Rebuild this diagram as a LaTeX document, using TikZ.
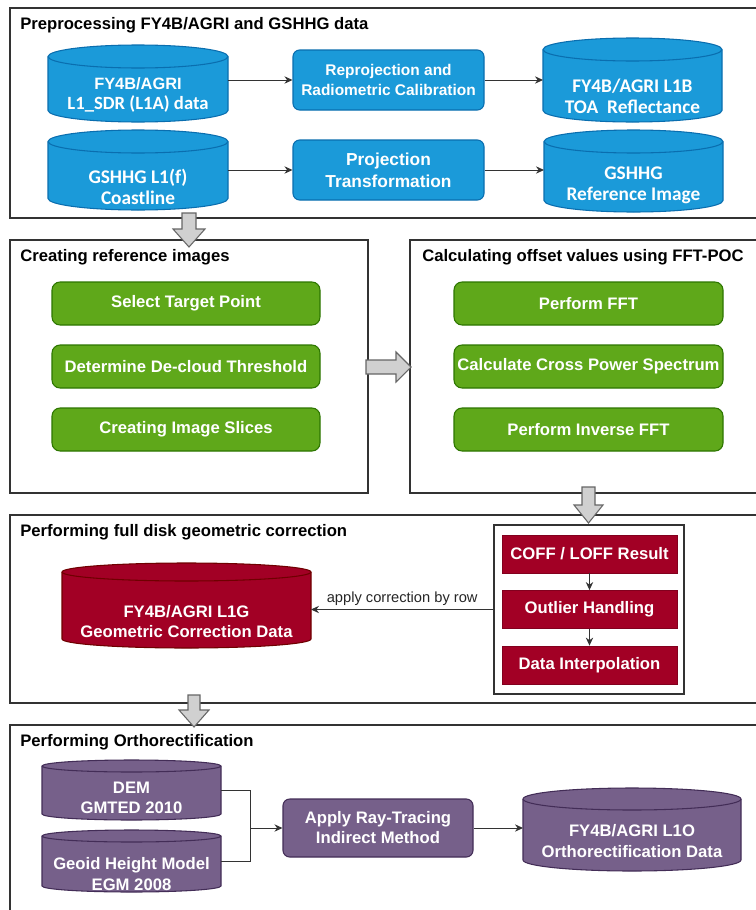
\documentclass[tikz,border=0pt]{standalone}
\usepackage{fontspec}
\setmainfont{Liberation Sans}
\newfontfamily\carl{Carlito}
\usetikzlibrary{arrows.meta}
\definecolor{bluef}{HTML}{1B9AD9}
\definecolor{blued}{HTML}{0A6EAF}
\definecolor{greenf}{HTML}{5FA81A}
\definecolor{greend}{HTML}{2D7600}
\definecolor{redf}{HTML}{A20025}
\definecolor{redd}{HTML}{6F0000}
\definecolor{purf}{HTML}{76608A}
\definecolor{purd}{HTML}{432D57}
\definecolor{arrf}{HTML}{D0D0D0}
\definecolor{arrd}{HTML}{666666}
\definecolor{linec}{HTML}{333333}

% #1 style, #2 name, #3 x1, #4 y1, #5 x2, #6 y2, #7 rim radius, #8 text centre y, #9 text
\newcommand\dbcyl[9]{%
 \pgfmathsetmacro\cylrx{0.75*(#5-#3)/2}%
 \pgfmathsetmacro\cylry{0.75*#7}%
 \path[#1] (#3,#4+#7) -- (#3,#6-#7) arc[start angle=180,end angle=360,x radius=\cylrx pt,y radius=\cylry pt] -- (#5,#4+#7) arc[start angle=0,end angle=180,x radius=\cylrx pt,y radius=\cylry pt] -- cycle;
 \path[#1,fill=none] (#3,#4+#7) arc[start angle=180,end angle=360,x radius=\cylrx pt,y radius=\cylry pt];
 \node[inner sep=0,outer sep=0,minimum width={0.75*(#5-#3)*1pt},minimum height={0.75*(#6-#4)*1pt}] (#2) at ({(#3+#5)/2},{(#4+#6)/2}) {};
 \node[cyltext] (#2-t) at ({(#3+#5)/2},#8) {#9};
}

\tikzset{
 frame/.style={draw=linec,line width=0.9pt},
 title/.style={anchor=base west,inner sep=0,font=\bfseries\fontsize{12.5}{15}\selectfont},
 cyltext/.style={text=white,align=center,inner sep=0,font=\bfseries\fontsize{12.5}{15.5}\selectfont},
 bluecyl/.style={fill=bluef,draw=blued,line width=0.8pt},
 redcyl/.style={fill=redf,draw=redd,line width=0.8pt},
 purcyl/.style={fill=purf,draw=purd,line width=0.8pt},
 boxtext/.style={text=white,align=center,inner sep=0,font=\bfseries\fontsize{12.5}{15}\selectfont},
 bluebox/.style={boxtext,fill=bluef,draw=blued,line width=0.8pt,rounded corners=5pt},
 greenbox/.style={boxtext,fill=greenf,draw=greend,line width=0.8pt,rounded corners=6pt},
 redbox/.style={boxtext,fill=redf,draw=redf!80!black,line width=0.6pt},
 purbox/.style={boxtext,fill=purf,draw=purd,line width=0.8pt,rounded corners=5pt},
 arr/.style={draw=linec,line width=0.75pt,-{Stealth[length=6pt,width=5.5pt]}},
 conn/.style={draw=linec,line width=0.75pt},
 bigarrow/.style={fill=arrf,draw=arrd,line width=0.8pt},
}

\begin{document}
\begin{tikzpicture}[x=0.75pt,y=-0.75pt]
\useasboundingbox (0,0) rectangle (756,910);
\fill[white] (0,0) rectangle (756,910);

% ---------- Box 1 ----------
\draw[frame] (760,8) -- (10,8) -- (10,218) -- (760,218);
\node[title] (t1) at (20,29.5) {Preprocessing FY4B/AGRI and GSHHG data};

\dbcyl{bluecyl}{c1}{48}{45}{228}{122}{11.5}{95}{\fontsize{12.3}{16}\selectfont FY4B/AGRI\\\carl\fontsize{14}{16}\selectfont L1\_SDR (L1A) data}
\dbcyl{bluecyl}{c2}{48}{130}{228}{210}{11.5}{187}{\carl\fontsize{14.5}{15.5}\selectfont GSHHG L1(f)\\\carl\fontsize{14.5}{15.5}\selectfont Coastline}
\dbcyl{bluecyl}{c3}{543}{38}{722}{122}{11.5}{96}{\carl\fontsize{14.5}{16}\selectfont FY4B/AGRI L1B\\\carl\fontsize{14.5}{16}\selectfont TOA~~Reflectance}
\dbcyl{bluecyl}{c4}{544}{130}{723}{212}{11.5}{185.5}{\carl\fontsize{14.5}{16}\selectfont GSHHG\\\carl\fontsize{14.5}{16}\selectfont Reference Image}

\node[bluebox,minimum width=143.25pt,minimum height=45pt,font=\bfseries\fontsize{11.6}{15}\selectfont] (rp) at (388.5,80) {Reprojection and\\Radiometric Calibration};
\node[bluebox,minimum width=143.25pt,minimum height=45pt,font=\bfseries\fontsize{13}{16.5}\selectfont] (pt) at (388.5,170) {Projection\\Transformation};

\draw[arr] (c1.east |- rp.west) -- (rp.west);
\draw[arr] (rp.east) -- (c3.west |- rp.east);
\draw[arr] (c2.east |- pt.west) -- (pt.west);
\draw[arr] (pt.east) -- (c4.west |- pt.east);

% ---------- Box 2 ----------
\draw[frame] (10,240) rectangle (368,493);
\node[title] (t2) at (20,261.5) {Creating reference images};
\node[greenbox,minimum width=201pt,minimum height=32.25pt] (g1) at (186,303.5) {Select Target Point};
\node[greenbox,minimum width=201pt,minimum height=32.25pt] (g2) at (186,366.5) {Determine De-cloud Threshold};
\node[greenbox,minimum width=201pt,minimum height=32.25pt] (g3) at (186,429.5) {Creating Image Slices};

% ---------- Box 3 ----------
\draw[frame] (760,240) -- (410,240) -- (410,493) -- (760,493);
\node[title] (t3) at (422,261.5) {Calculating offset values using FFT-POC};
\node[greenbox,minimum width=201.75pt,minimum height=32.25pt] (h1) at (588.5,303.5) {Perform FFT};
\node[greenbox,minimum width=201.75pt,minimum height=32.25pt] (h2) at (588.5,366.5) {Calculate Cross Power Spectrum};
\node[greenbox,minimum width=201.75pt,minimum height=32.25pt] (h3) at (588.5,429.5) {Perform Inverse FFT};

% ---------- Box 4 ----------
\draw[frame] (760,515) -- (10,515) -- (10,703) -- (760,703);
\node[title] (t4) at (20,536) {Performing full disk geometric correction};
\dbcyl{redcyl}{rc}{62}{563}{311}{648}{9}{621.5}{FY4B/AGRI L1G\\Geometric Correction Data}
\node[draw=linec,fill=white,line width=0.9pt,minimum width=142.5pt,minimum height=126.75pt,inner sep=0] (ib) at (589,609.5) {};
\node[redbox,minimum width=131.25pt,minimum height=28.5pt] (r1) at (589.5,554) {COFF / LOFF Result};
\node[redbox,minimum width=131.25pt,minimum height=28.5pt] (r2) at (589.5,609.5) {Outlier Handling};
\node[redbox,minimum width=131.25pt,minimum height=28.5pt] (r3) at (589.5,665) {Data Interpolation};
\draw[arr] (r1.south) -- (r2.north);
\draw[arr] (r2.south) -- (r3.north);
\draw[arr] (ib.west) -- node[midway,above=2.5pt,inner sep=0,text=black!85,font=\fontsize{11}{13}\selectfont] (lab) {apply correction by row} (rc.east |- ib.west);

% ---------- Box 5 ----------
\draw[frame] (760,725) -- (10,725) -- (10,915);
\node[title] (t5) at (20,746.5) {Performing Orthorectification};
\dbcyl{purcyl}{dem}{42}{760}{221}{820}{6}{798}{DEM\\GMTED 2010}
\dbcyl{purcyl}{geo}{42}{830}{221}{892}{6}{874}{Geoid Height Model\\EGM 2008}
\node[purbox,minimum width=142.5pt,minimum height=43.5pt] (ap) at (378,828) {Apply Ray-Tracing\\Indirect Method};
\dbcyl{purcyl}{lo}{523}{788}{741}{871}{11}{841}{FY4B/AGRI L1O\\Orthorectification Data}
\coordinate (j) at (250,828);
\draw[conn] (dem.east) -| (j);
\draw[conn] (geo.east) -| (j);
\draw[arr] (j) -- (ap.west);
\draw[arr] (ap.east) -- (lo.west |- ap.east);

% ---------- big gray arrows ----------
\draw[bigarrow] (182,213) -- (196,213) -- (196,229) -- (205,229) -- (189,247) -- (173,229) -- (182,229) -- cycle;
\draw[bigarrow] (366,360) -- (396,360) -- (396,352) -- (411,367) -- (396,382) -- (396,374) -- (366,374) -- cycle;
\draw[bigarrow] (582,487) -- (595,487) -- (595,505) -- (603,505) -- (588.5,523) -- (574,505) -- (582,505) -- cycle;
\draw[bigarrow] (188,695) -- (200,695) -- (200,710) -- (209,710) -- (194,727) -- (179,710) -- (188,710) -- cycle;
\end{tikzpicture}
\end{document}
